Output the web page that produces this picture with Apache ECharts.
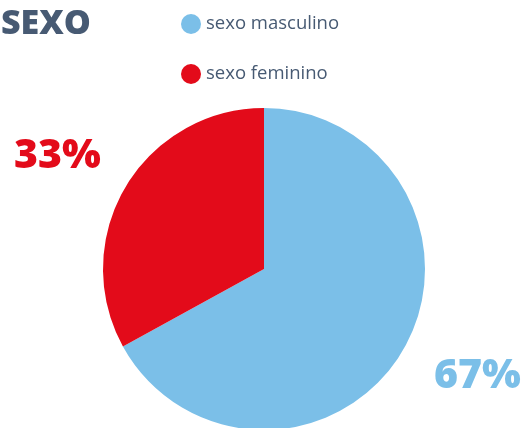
<!DOCTYPE html>
<html><head><meta charset="utf-8">
<script src="https://cdn.jsdelivr.net/npm/echarts@6/dist/echarts.min.js"></script>
<style>html,body{margin:0;padding:0;background:#fff}#c{width:528px;height:428px}</style>
</head><body><div id="c"></div>
<script>
const categories = ['sexo masculino', 'sexo feminino'];
const values = [67, 33];
const colors = ['#7bbfe8', '#e30b1a'];
const titleText = 'SEXO';

const chart = echarts.init(document.getElementById('c'));
const labelPos = [
  {x: 521, y: 376, align: 'right'},
  {x: 14, y: 156, align: 'left'}
];
chart.setOption({
  animation: false,
  title: {
    text: titleText, left: -4, top: 2,
    textStyle: {fontFamily: 'Open Sans', fontWeight: 800, fontSize: 34, color: '#475a73'}
  },
  legend: {
    orient: 'vertical', left: 176, top: 9,
    icon: 'circle', itemWidth: 20, itemHeight: 20, itemGap: 30,
    textStyle: {fontFamily: 'Open Sans', fontWeight: 500, fontSize: 18.5, color: '#475a73', padding: [0, 0, 0, 0]},
    data: categories
  },
  series: [{
    type: 'pie',
    center: [264, 269],
    radius: 161,
    startAngle: 90,
    clockwise: true,
    label: {
      show: true,
      formatter: p => p.value + '%',
      fontFamily: 'Open Sans', fontWeight: 800, fontSize: 41,
      overflow: 'none', width: 200,
      color: 'inherit'
    },
    labelLine: {show: false},
    labelLayout: p => ({x: labelPos[p.dataIndex].x, y: labelPos[p.dataIndex].y, align: labelPos[p.dataIndex].align, verticalAlign: 'middle'}),
    emphasis: {disabled: true},
    data: categories.map((c, i) => ({name: c, value: values[i], itemStyle: {color: colors[i]}, label: {color: colors[i]}}))
  }]
});
</script></body></html>
